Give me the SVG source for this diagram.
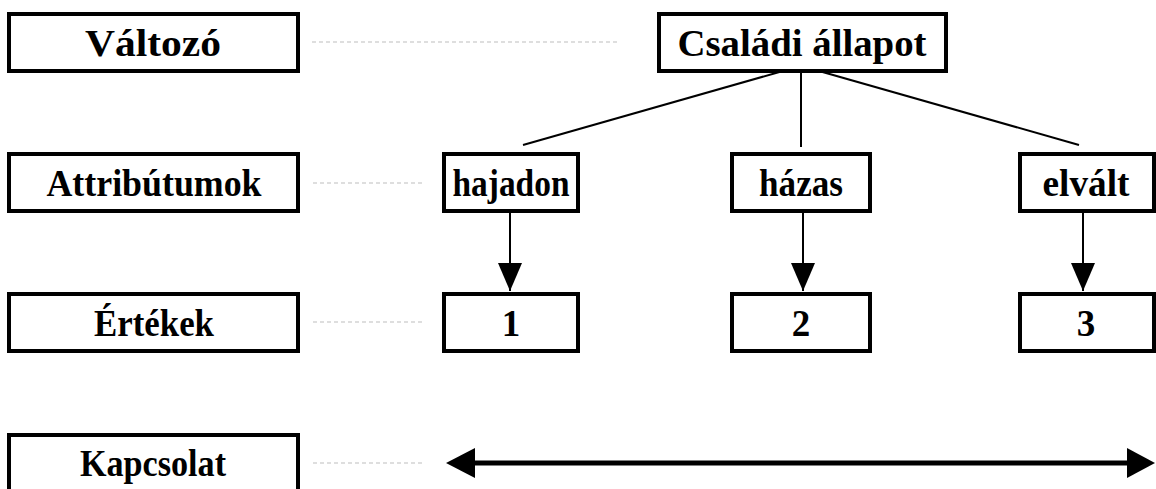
<svg xmlns="http://www.w3.org/2000/svg" width="1156" height="489" viewBox="0 0 1156 489">
<defs>
<style>
.box{fill:#fff;stroke:#000;stroke-width:4}
.t{font-family:"Liberation Serif","Times New Roman",serif;font-weight:bold;font-size:37px;fill:#000;text-anchor:middle}
.dash{stroke:#bdbdbd;stroke-width:1.2;stroke-dasharray:4 3;fill:none}
.ln{stroke:#000;stroke-width:2;fill:none}
.arr{stroke:#000;stroke-width:2;fill:none;marker-end:url(#ah)}
.head{fill:#000}
</style>
<marker id="ah" markerUnits="userSpaceOnUse" viewBox="0 0 28 24" refX="28" refY="12" markerWidth="28" markerHeight="24" orient="auto">
<path d="M0,0 L28,12 L0,24 Z" fill="#000"/>
</marker>
</defs>
<rect width="1156" height="489" fill="#fff"/>

<g id="connectors">
<line class="dash" x1="312" y1="42" x2="620" y2="42"/>
<line class="dash" x1="313" y1="183" x2="425" y2="183"/>
<line class="dash" x1="313" y1="322" x2="425" y2="322"/>
<line class="dash" x1="313" y1="463" x2="425" y2="463"/>
<line class="ln" x1="790" y1="69" x2="523" y2="145"/>
<line class="ln" x1="801" y1="72" x2="801" y2="147"/>
<line class="ln" x1="812" y1="69" x2="1079" y2="145"/>
<line class="arr" x1="510" y1="213" x2="510" y2="291"/>
<line class="arr" x1="803" y1="213" x2="803" y2="291"/>
<line class="arr" x1="1083" y1="213" x2="1083" y2="291"/>
<line x1="470" y1="463" x2="1130" y2="463" stroke="#000" stroke-width="5"/>
<polygon class="head" points="446,463 475,448 475,478"/>
<polygon class="head" points="1155,463 1127,448 1127,478"/>
</g>

<g id="n-valtozo"><rect class="box" x="9" y="14" width="289" height="57"/><text class="t" x="153" y="56" textLength="136" lengthAdjust="spacingAndGlyphs">Változó</text></g>
<g id="n-csaladi"><rect class="box" x="659" y="14" width="287" height="57"/><text class="t" x="802" y="56" textLength="249" lengthAdjust="spacingAndGlyphs">Családi állapot</text></g>

<g id="n-attr"><rect class="box" x="9" y="154" width="289" height="57"/><text class="t" x="154" y="196" textLength="215" lengthAdjust="spacingAndGlyphs">Attribútumok</text></g>
<g id="n-hajadon"><rect class="box" x="444" y="154" width="134" height="57"/><text class="t" x="511" y="196" textLength="117" lengthAdjust="spacingAndGlyphs">hajadon</text></g>
<g id="n-hazas"><rect class="box" x="732" y="154" width="138" height="57"/><text class="t" x="801" y="196" textLength="84" lengthAdjust="spacingAndGlyphs">házas</text></g>
<g id="n-elvalt"><rect class="box" x="1020" y="154" width="134" height="57"/><text class="t" x="1086" y="196" textLength="87" lengthAdjust="spacingAndGlyphs">elvált</text></g>

<g id="n-ertekek"><rect class="box" x="9" y="294" width="289" height="57"/><text class="t" x="154" y="336" textLength="120" lengthAdjust="spacingAndGlyphs">Értékek</text></g>
<g id="n-1"><rect class="box" x="444" y="294" width="134" height="57"/><text class="t" x="511" y="336">1</text></g>
<g id="n-2"><rect class="box" x="732" y="294" width="138" height="57"/><text class="t" x="801" y="336">2</text></g>
<g id="n-3"><rect class="box" x="1020" y="294" width="134" height="57"/><text class="t" x="1086" y="336">3</text></g>

<g id="n-kapcsolat"><rect class="box" x="9" y="435" width="289" height="80"/><text class="t" x="153" y="476" textLength="146" lengthAdjust="spacingAndGlyphs">Kapcsolat</text></g>
</svg>
